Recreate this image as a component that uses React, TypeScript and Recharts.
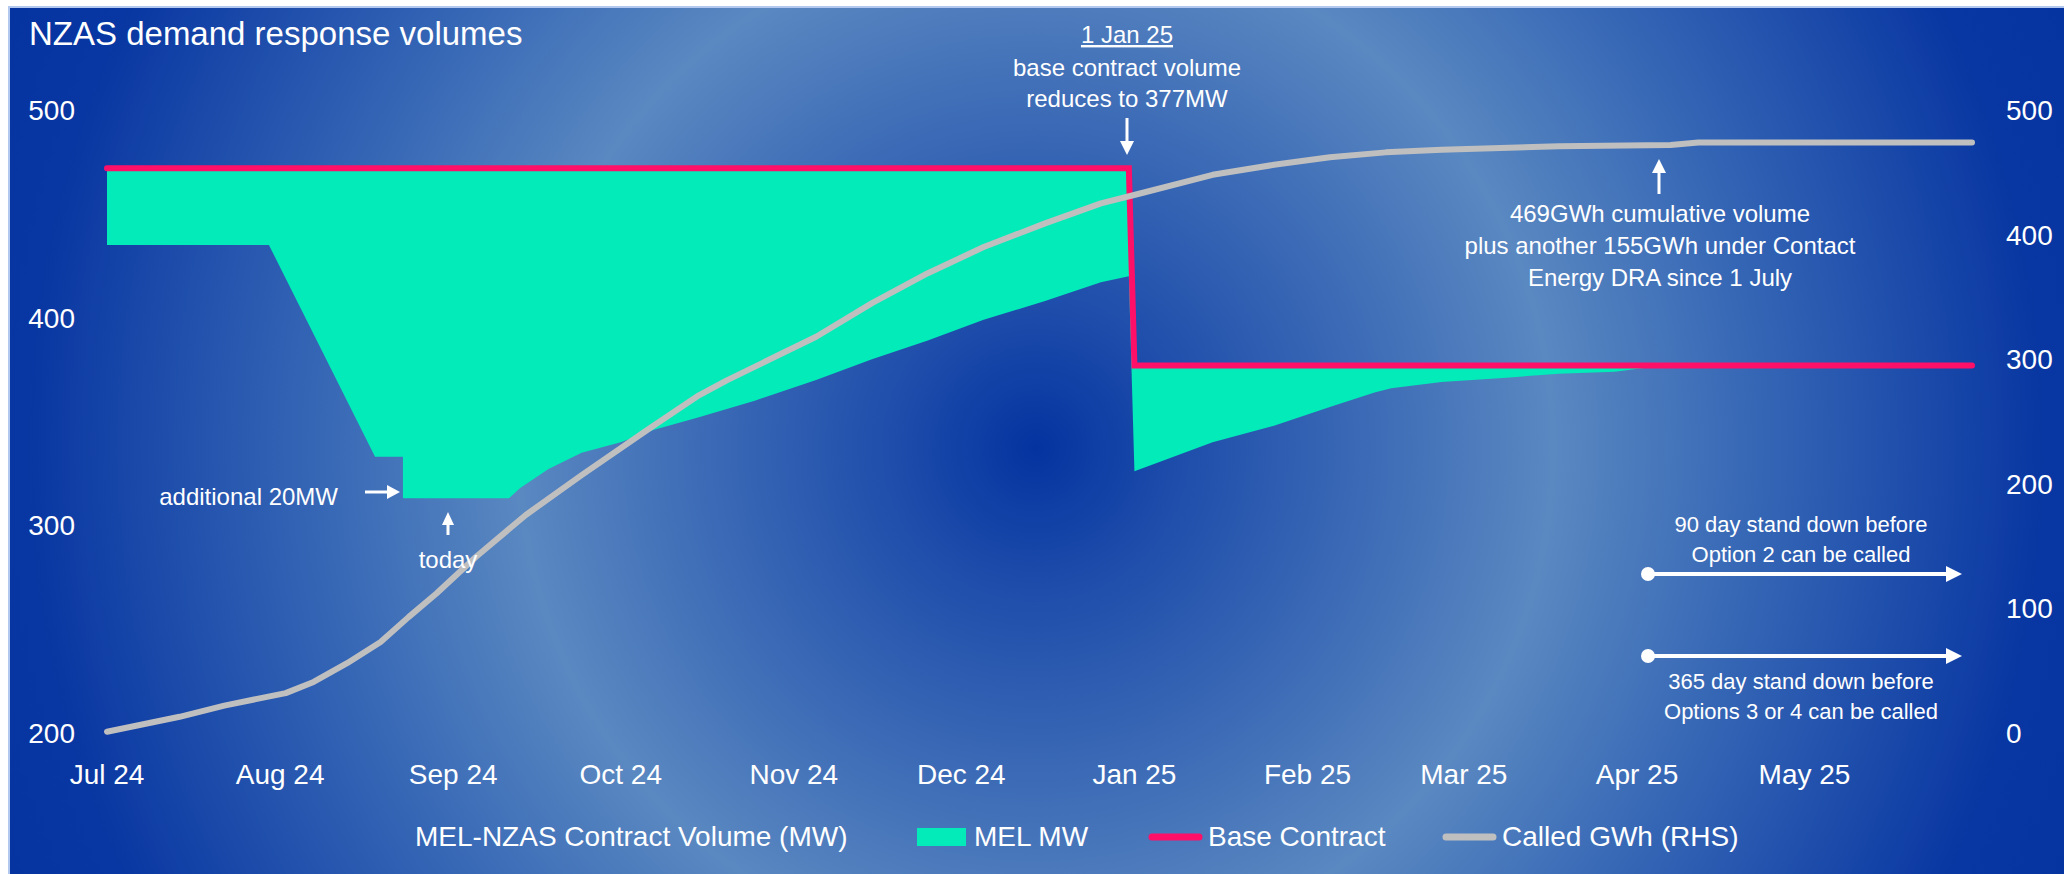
import React from "react";
import { ComposedChart, Area, Line, XAxis, YAxis } from "recharts";

const FONT = "'Liberation Sans', Arial, sans-serif";

// x axis: day index from 1 Jul 2024, labels at month starts
const monthTicks = [0, 31, 62, 92, 123, 153, 184, 215, 243, 274, 304];
const monthLabels = ["Jul 24", "Aug 24", "Sep 24", "Oct 24", "Nov 24", "Dec 24", "Jan 25", "Feb 25", "Mar 25", "Apr 25", "May 25"];
const lastDay = 334;

const mwTicks = [200, 300, 400, 500];
const gwhTicks = [0, 100, 200, 300, 400, 500];

// base contract (MW)
const contractDay = [0, 183, 184, 334];
const contractMW = [472, 472, 377, 377];

// MEL MW lower edge of the green band
const melDay = [0, 29, 48, 53, 53, 72, 74, 79, 85, 92, 98, 106, 116, 127, 137, 147, 157, 168, 178, 183, 184, 188, 198, 209, 219, 227, 230, 239, 250, 260, 270, 276, 278, 334];
const melMW = [435, 435, 333, 333, 313, 313, 318, 327, 335, 340, 346, 352, 360, 370, 380, 389, 399, 408, 417, 420, 326, 330, 340, 348, 357, 364, 366, 369, 371, 373, 374, 376, 377, 377];

// called GWh, cumulative (RHS)
const calledDay = [0, 13, 21, 32, 37, 43, 49, 54, 59, 66, 75, 85, 97, 106, 111, 127, 137, 147, 157, 168, 178, 185, 198, 209, 219, 229, 239, 260, 280, 285, 334];
const calledGWh = [1, 13, 22, 32, 41, 56, 73, 93, 112, 141, 175, 207, 244, 271, 283, 318, 345, 369, 390, 409, 425, 433, 448, 456, 462, 466, 468, 471, 472, 474, 474];

const contractAt = (day: number) => {
  let v = contractMW[0];
  contractDay.forEach((d, i) => {
    if (d <= day) v = contractMW[i];
  });
  return v;
};

const contractData = contractDay.map((day, i) => ({ day, mw: contractMW[i] }));
const melData = melDay.map((day, i) => ({ day, band: [melMW[i], contractAt(day)] }));
const calledData = calledDay.map((day, i) => ({ day, gwh: calledGWh[i] }));

const GREEN = "#02ebb9";
const PINK = "#ff1068";
const GREY = "#bfbfbf";

const XTick = (props: any) => {
  const { x, y, payload } = props;
  const i = monthTicks.indexOf(payload.value);
  return (
    <text x={x} y={y + 51} textAnchor="middle" fill="#fff" fontSize={28} fontFamily={FONT}>
      {monthLabels[i]}
    </text>
  );
};

const LeftTick = (props: any) => {
  const { x, y, payload } = props;
  return (
    <text x={x - 32} y={y + 10} textAnchor="end" fill="#fff" fontSize={28} fontFamily={FONT}>
      {payload.value}
    </text>
  );
};

const RightTick = (props: any) => {
  const { x, y, payload } = props;
  return (
    <text x={x + 34} y={y + 10} textAnchor="start" fill="#fff" fontSize={28} fontFamily={FONT}>
      {payload.value}
    </text>
  );
};

const txt = { fill: "#fff", fontFamily: FONT } as const;

function Overlay() {
  return (
    <svg width={2064} height={874} style={{ position: "absolute", left: 0, top: 0, pointerEvents: "none" }}>
      <text x={29} y={45} fontSize={33} {...txt}>NZAS demand response volumes</text>

      {/* 1 Jan 25 note */}
      <g textAnchor="middle" fontSize={24} {...txt}>
        <text x={1127} y={43} textDecoration="underline">1 Jan 25</text>
        <text x={1127} y={76}>base contract volume</text>
        <text x={1127} y={107}>reduces to 377MW</text>
      </g>
      <line x1={1127} y1={118} x2={1127} y2={143} stroke="#fff" strokeWidth={3} />
      <polygon points="1120,141 1134,141 1127,155" fill="#fff" />

      {/* cumulative note */}
      <g textAnchor="middle" fontSize={24} {...txt}>
        <text x={1660} y={222}>469GWh cumulative volume</text>
        <text x={1660} y={254}>plus another 155GWh under Contact</text>
        <text x={1660} y={286}>Energy DRA since 1 July</text>
      </g>
      <line x1={1659} y1={194} x2={1659} y2={171} stroke="#fff" strokeWidth={3} />
      <polygon points="1652,173 1666,173 1659,159" fill="#fff" />

      {/* additional 20MW / today */}
      <text x={338} y={505} textAnchor="end" fontSize={24} {...txt}>additional 20MW</text>
      <line x1={365} y1={492} x2={389} y2={492} stroke="#fff" strokeWidth={3} />
      <polygon points="387,485 387,499 400,492" fill="#fff" />
      <text x={448} y={568} textAnchor="middle" fontSize={24} {...txt}>today</text>
      <line x1={448} y1={535} x2={448} y2={522} stroke="#fff" strokeWidth={3} />
      <polygon points="442,525 454,525 448,512" fill="#fff" />

      {/* stand down arrows */}
      <g textAnchor="middle" fontSize={22} {...txt}>
        <text x={1801} y={532}>90 day stand down before</text>
        <text x={1801} y={562}>Option 2 can be called</text>
        <text x={1801} y={689}>365 day stand down before</text>
        <text x={1801} y={719}>Options 3 or 4 can be called</text>
      </g>
      {[574, 656].map((y) => (
        <g key={y}>
          <circle cx={1648} cy={y} r={7} fill="#fff" />
          <line x1={1648} y1={y} x2={1948} y2={y} stroke="#fff" strokeWidth={4} />
          <polygon points={`1946,${y - 8} 1946,${y + 8} 1962,${y}`} fill="#fff" />
        </g>
      ))}

      {/* legend */}
      <g fontSize={28} {...txt}>
        <text x={415} y={846}>MEL-NZAS Contract Volume (MW)</text>
        <rect x={917} y={828} width={49} height={18} fill={GREEN} />
        <text x={974} y={846}>MEL MW</text>
        <line x1={1152} y1={837} x2={1199} y2={837} stroke={PINK} strokeWidth={7} strokeLinecap="round" />
        <text x={1208} y={846}>Base Contract</text>
        <line x1={1446} y1={837} x2={1493} y2={837} stroke={GREY} strokeWidth={7} strokeLinecap="round" />
        <text x={1502} y={846}>Called GWh (RHS)</text>
      </g>
    </svg>
  );
}

export default function App() {
  return (
    <div style={{ position: "fixed", left: 0, top: 0, width: 2064, height: 874, background: "#fff", overflow: "hidden" }}>
      <div
        style={{
          position: "absolute",
          left: 8,
          top: 6,
          right: 0,
          bottom: 0,
          borderLeft: "2px solid #b3c8ee",
          borderTop: "2px solid #b3c8ee",
          background:
            "radial-gradient(circle 1150px at 1026px 440px, #0433a0 0%, #1d4cab 12%, #5a88c1 45%, #3566b5 63%, #0836a2 88%, #0433a0 100%)",
        }}
      />
      <div style={{ position: "absolute", left: 0, top: 0 }}>
        <ComposedChart width={2064} height={874} margin={{ top: 110, right: 0, bottom: 81, left: 0 }}>
          <XAxis
            dataKey="day"
            type="number"
            domain={[0, lastDay]}
            ticks={monthTicks}
            height={60}
            axisLine={false}
            tickLine={false}
            tickSize={0}
            tickMargin={0}
            tick={<XTick />}
            interval={0}
          />
          <YAxis
            yAxisId="left"
            domain={[200, 500]}
            ticks={mwTicks}
            width={107}
            axisLine={false}
            tickLine={false}
            tickSize={0}
            tickMargin={0}
            tick={<LeftTick />}
          />
          <YAxis
            yAxisId="right"
            orientation="right"
            domain={[0, 500]}
            ticks={gwhTicks}
            width={92}
            axisLine={false}
            tickLine={false}
            tickSize={0}
            tickMargin={0}
            tick={<RightTick />}
          />
          <Area
            yAxisId="left"
            data={melData}
            dataKey="band"
            type="linear"
            fill={GREEN}
            fillOpacity={1}
            stroke="none"
            isAnimationActive={false}
          />
          <Line
            yAxisId="left"
            data={contractData}
            dataKey="mw"
            type="linear"
            stroke={PINK}
            strokeWidth={6}
            strokeLinecap="round"
            dot={false}
            activeDot={false}
            isAnimationActive={false}
          />
          <Line
            yAxisId="right"
            data={calledData}
            dataKey="gwh"
            type="linear"
            stroke={GREY}
            strokeWidth={6}
            strokeLinecap="round"
            strokeLinejoin="round"
            dot={false}
            activeDot={false}
            isAnimationActive={false}
          />
        </ComposedChart>
      </div>
      <Overlay />
    </div>
  );
}
